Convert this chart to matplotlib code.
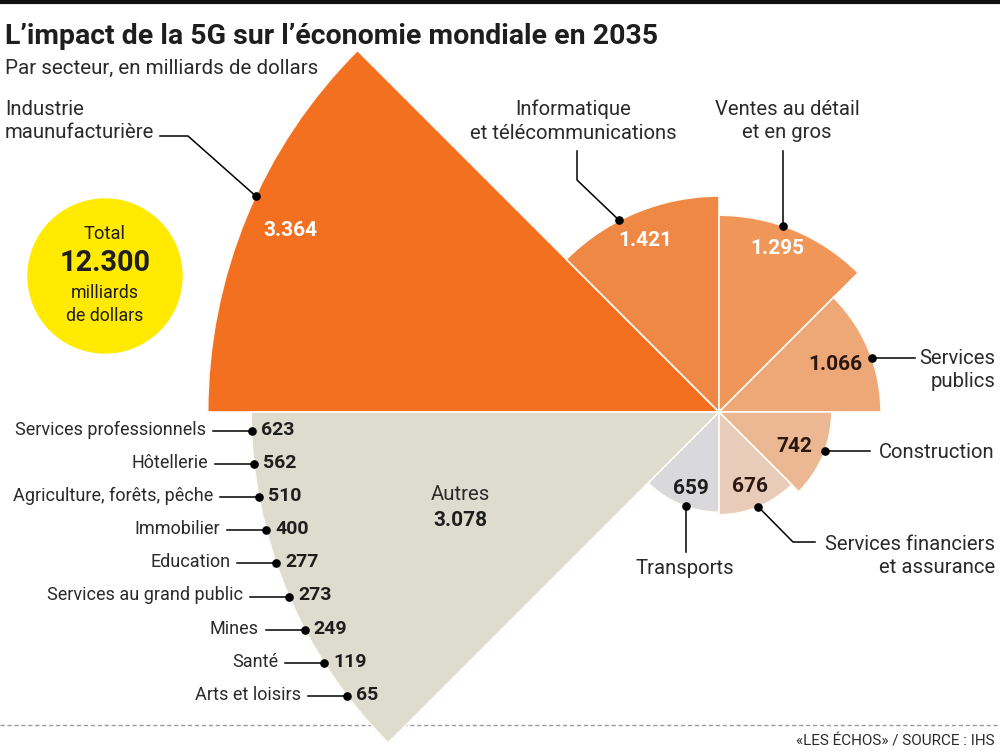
import numpy as np
import matplotlib
matplotlib.use("Agg")
import matplotlib.pyplot as plt
from matplotlib.patches import Circle

# ---------------- data ----------------
sectors = ["Industrie\nmaunufacturière", "Informatique\net télécommunications",
           "Ventes au détail\net en gros", "Services\npublics", "Construction",
           "Services financiers\net assurance", "Transports", "Autres"]
values = [3364, 1421, 1295, 1066, 742, 676, 659, 3078]
value_labels = ["3.364", "1.421", "1.295", "1.066", "742", "676", "659", "3.078"]
colors = ["#F37021", "#EF8745", "#F09659", "#EEA877", "#EBB893", "#E8CBB8", "#D9D9DB", "#DEDCCF"]

autres_labels = ["Services professionnels", "Hôtellerie", "Agriculture, forêts, pêche",
                 "Immobilier", "Education", "Services au grand public", "Mines",
                 "Santé", "Arts et loisirs"]
autres_values = [623, 562, 510, 400, 277, 273, 249, 119, 65]
autres_value_labels = ["623", "562", "510", "400", "277", "273", "249", "119", "65"]

total_label = "12.300"

# ---------------- figure ----------------
W, H = 1000, 751
fig = plt.figure(figsize=(W / 100, H / 100), dpi=100)
FONT = "Roboto"
plt.rcParams["font.family"] = [FONT, "DejaVu Sans"]
DARK = "#1e1e1e"
TXT = "#2a2a2a"

# background axes (dashed footer line, top rule)
bg = fig.add_axes([0, 0, 1, 1])
bg.set_xlim(0, W)
bg.set_ylim(H, 0)
bg.set_axis_off()
bg.plot([0, W], [725, 725], color="#9a9a9a", lw=1.0, ls=(0, (3, 2)))
bg.plot([0, W], [1.5, 1.5], color="#111111", lw=3)

# polar axes for the rose
cx, cy = 719, 412          # centre in pixels (from top)
k = 0.152                  # pixels per unit
Rpx = 540
rmax = Rpx / k
ax = fig.add_axes([(cx - Rpx) / W, (H - cy - Rpx) / H, 2 * Rpx / W, 2 * Rpx / H],
                  projection="polar")
ax.set_ylim(0, rmax)
ax.set_axis_off()
n = len(values)
theta = np.deg2rad(157.5 - 45 * np.arange(n))
ax.bar(theta, values, width=np.pi / 4, bottom=0, color=colors,
       edgecolor="#FFFBF5", linewidth=1.2, align="center")

# overlay for annotations
ov = fig.add_axes([0, 0, 1, 1])
ov.set_xlim(0, W)
ov.set_ylim(H, 0)
ov.set_axis_off()

LW = 1.1
MS = 5.2


def topix(theta_deg, r):
    x, y = ax.transData.transform((np.deg2rad(theta_deg), r))
    return x, H - y


def dot(p):
    ov.plot([p[0]], [p[1]], "o", color="black", ms=MS, zorder=5)


# title
ov.text(5, 36, "L’impact de la 5G sur l’économie mondiale en 2035", fontsize=20.5,
        fontweight="bold", color=DARK, va="center", ha="left")
ov.text(5, 68, "Par secteur, en milliards de dollars", fontsize=14.8,
        color=TXT, va="center", ha="left")

lab_fs = 14.6
# value labels inside wedges
val_pos = [(290, 230), (645, 240), (777, 249), (835, 364), (794, 446), (750, 486), (691, 488)]
val_col = ["white", "white", "white", "#2a1710", "#2a1710", "#2a1710", "#1e1e1e"]
for (x, y), t, c in zip(val_pos, value_labels[:7], val_col):
    ov.text(x, y, t, fontsize=15, fontweight="bold", color=c, ha="center", va="center")

# Autres
ov.text(460, 494, "Autres", fontsize=lab_fs, color=TXT, ha="center", va="center")
ov.text(460, 520, value_labels[7], fontsize=15, fontweight="bold", color=DARK, ha="center", va="center")

# Industrie
p = topix(155, values[0])
dot(p)
ov.plot([160, 188, p[0]], [136, 136, p[1]], color="black", lw=LW)
ov.text(5, 121, sectors[0], fontsize=lab_fs, color=TXT,
        ha="left", va="center", linespacing=1.3)

# Informatique
p = topix(117.5, values[1])
dot(p)
ov.plot([577, 577, p[0]], [151, 180, p[1]], color="black", lw=LW)
ov.text(573, 121, sectors[1], fontsize=lab_fs, color=TXT,
        ha="center", va="center", linespacing=1.3, multialignment="center")

# Ventes
p = topix(71, values[2])
dot(p)
ov.plot([p[0], p[0]], [151, p[1]], color="black", lw=LW)
ov.text(787, 121, sectors[2], fontsize=lab_fs, color=TXT,
        ha="center", va="center", linespacing=1.3, multialignment="center")

# Services publics
p = topix(19.5, values[3])
dot(p)
ov.plot([p[0], 915], [p[1], p[1]], color="black", lw=LW)
ov.text(995, 370, sectors[3], fontsize=lab_fs, color=TXT,
        ha="right", va="center", linespacing=1.3, multialignment="right")

# Construction
p = topix(-20.5, values[4])
dot(p)
ov.plot([p[0], 870], [p[1], p[1]], color="black", lw=LW)
ov.text(995, 452, sectors[4], fontsize=lab_fs, color=TXT,
        ha="right", va="center")

# Services financiers
p = topix(-67.5, values[5])
dot(p)
ov.plot([p[0], 793, 815], [p[1], 542, 542], color="black", lw=LW)
ov.text(995, 556, sectors[5], fontsize=lab_fs, color=TXT,
        ha="right", va="center", linespacing=1.3, multialignment="right")

# Transports
p = topix(-109.5, values[6])
dot(p)
ov.plot([p[0], p[0]], [p[1], 552], color="black", lw=LW)
ov.text(685, 569, sectors[6], fontsize=lab_fs, color=TXT,
        ha="center", va="center")

# Autres breakdown, dots on the arc of the "Autres" wedge
r_aut_px = k * values[7]
for i, (lab, vl) in enumerate(zip(autres_labels, autres_value_labels)):
    y = 431 + 33.1 * i
    ang = 180 + np.rad2deg(np.arcsin((y - cy) / r_aut_px))
    px, py = topix(ang, values[7])
    dot((px, py))
    ov.plot([px - 39, px], [py, py], color="black", lw=LW)
    ov.text(px - 46, py - 1, lab, fontsize=13.0, color=TXT,
            ha="right", va="center")
    ov.text(px + 9, py - 1, vl, fontsize=14, fontweight="bold", color=DARK,
            ha="left", va="center")

# total circle
ov.add_patch(Circle((105, 276), 77, color="#FFEA00", zorder=1))
ov.text(105, 234, "Total", fontsize=13.2, color=DARK, ha="center", va="center")
ov.text(105, 263, total_label, fontsize=20.8, fontweight="bold", color=DARK, ha="center", va="center")
ov.text(105, 293, "milliards", fontsize=12.8, color=DARK, ha="center", va="center")
ov.text(105, 316, "de dollars", fontsize=12.8, color=DARK, ha="center", va="center")

# source
ov.text(995, 742, "«LES ÉCHOS» / SOURCE : IHS", fontsize=11.0,
        color=TXT, ha="right", va="center")

fig.savefig("out.png", dpi=100)
